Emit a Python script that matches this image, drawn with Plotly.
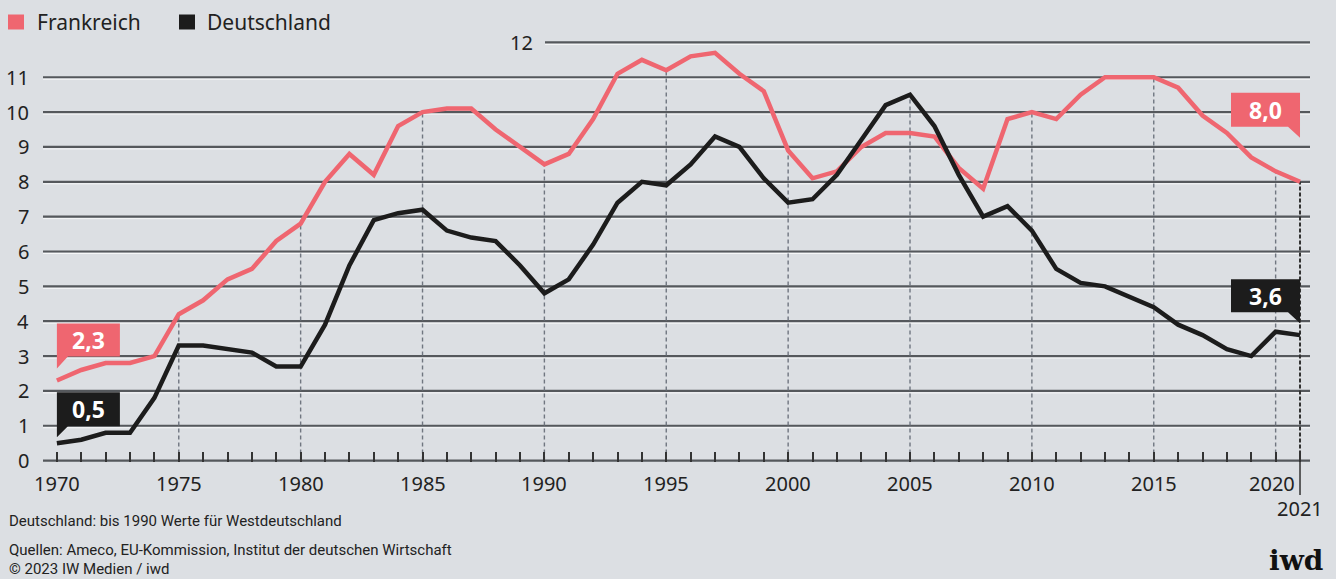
import plotly.graph_objects as go

# ---------------- data ----------------
years = list(range(1970, 2022))
frankreich = [2.3, 2.6, 2.8, 2.8, 3.0, 4.2, 4.6, 5.2, 5.5, 6.3,
              6.8, 8.0, 8.8, 8.2, 9.6, 10.0, 10.1, 10.1, 9.5, 9.0,
              8.5, 8.8, 9.8, 11.1, 11.5, 11.2, 11.6, 11.7, 11.1, 10.6,
              8.9, 8.1, 8.3, 9.0, 9.4, 9.4, 9.3, 8.4, 7.8, 9.8,
              10.0, 9.8, 10.5, 11.0, 11.0, 11.0, 10.7, 9.9, 9.4, 8.7,
              8.3, 8.0]
deutschland = [0.5, 0.6, 0.8, 0.8, 1.8, 3.3, 3.3, 3.2, 3.1, 2.7,
               2.7, 3.9, 5.6, 6.9, 7.1, 7.2, 6.6, 6.4, 6.3, 5.6,
               4.8, 5.2, 6.2, 7.4, 8.0, 7.9, 8.5, 9.3, 9.0, 8.1,
               7.4, 7.5, 8.2, 9.2, 10.2, 10.5, 9.6, 8.2, 7.0, 7.3,
               6.6, 5.5, 5.1, 5.0, 4.7, 4.4, 3.9, 3.6, 3.2, 3.0,
               3.7, 3.6]
y_ticks = list(range(0, 13))
x_label_years = [1970, 1975, 1980, 1985, 1990, 1995, 2000, 2005, 2010, 2015, 2020]
dashed_years = [1975, 1980, 1985, 1990, 1995, 2000, 2005, 2010, 2015, 2020]
last_year = 2021
series_names = ["Frankreich", "Deutschland"]
note_text = "Deutschland: bis 1990 Werte für Westdeutschland"
source_text = "Quellen: Ameco, EU-Kommission, Institut der deutschen Wirtschaft"
copy_text = "© 2023 IW Medien / iwd"

# ---------------- style ----------------
RED = "#ef6670"
BLACK = "#1c1c1c"
BG = "#dcdfe3"
GRID = "#55585c"
TXT = "#222222"
FONT = "Noto Sans"

W, H = 1336, 579
ML, MR, MT, MB = 43, 26, 41, 117
PW = W - ML - MR
PH = H - MT - MB


def xp(px):
    return (px - ML) / PW


def yp(py):
    return (H - MB - py) / PH


fig = go.Figure()
fig.add_trace(go.Scatter(x=years, y=frankreich, mode="lines", name=series_names[0],
                         line=dict(color=RED, width=4.5), showlegend=False,
                         hoverinfo="skip"))
fig.add_trace(go.Scatter(x=years, y=deutschland, mode="lines", name=series_names[1],
                         line=dict(color=BLACK, width=4.5), showlegend=False,
                         hoverinfo="skip"))

shapes = []
annotations = []

# horizontal gridlines
for v in y_ticks:
    x0 = xp(545) if v == 12 else 0
    shapes.append(dict(type="line", xref="paper", yref="y", x0=x0, x1=1, y0=v, y1=v,
                       line=dict(color=GRID, width=2.2), layer="below"))
    shapes.append(dict(type="line", xref="paper", yref="y", x0=x0, x1=1,
                       ysizemode="pixel", yanchor=v, y0=-2, y1=-2,
                       line=dict(color="rgba(255,255,255,0.75)", width=1), layer="below"))

# vertical dashed lines
for yr in dashed_years:
    i = years.index(yr)
    top = max(frankreich[i], deutschland[i])
    shapes.append(dict(type="line", xref="x", yref="y", x0=yr, x1=yr, y0=0, y1=top,
                       line=dict(color="#707680", width=1.4, dash="4px,3px"), layer="below"))
i = years.index(last_year)
shapes.append(dict(type="line", xref="x", yref="y", x0=last_year, x1=last_year, y0=0,
                   y1=max(frankreich[i], deutschland[i]),
                   line=dict(color="#333333", width=2, dash="4px,2px"), layer="below"))
shapes.append(dict(type="line", xref="x", yref="paper", x0=last_year, x1=last_year,
                   y0=0, y1=yp(495), line=dict(color="#333333", width=1.5)))

# callouts (speech-bubble shapes anchored to data points)
callouts = [
    (years[0], frankreich[0], RED, "M0,12 L0,57 L63,57 L63,24 L11,24 Z", 32, 40),
    (years[0], deutschland[0], BLACK, "M0,6 L0,51 L63,51 L63,17 L11,17 Z", 32, 34),
    (years[-1], frankreich[-1], RED, "M0,44 L0,89 L-69,89 L-69,55 L-12,55 Z", -35, 72),
    (years[-1], deutschland[-1], BLACK, "M0,12 L0,56 L-69,56 L-69,23 L-12,23 Z", -35, 39.5),
]
for xv, yv, col, path, dx, dy in callouts:
    shapes.append(dict(type="path", xref="x", yref="y", xsizemode="pixel", ysizemode="pixel",
                       xanchor=xv, yanchor=yv, path=path, fillcolor=col,
                       line=dict(width=0), layer="above"))
    annotations.append(dict(x=xv, y=yv, xref="x", yref="y", text=f"{yv:.1f}".replace(".", ","),
                            showarrow=False, xshift=dx, yshift=dy,
                            font=dict(family=FONT, size=23, color="white", weight="bold")))

# y tick labels
for v in y_ticks[:-1]:
    annotations.append(dict(xref="paper", yref="y", x=0, y=v, xshift=-12, text=str(v),
                            xanchor="right", yanchor="middle", showarrow=False,
                            font=dict(family=FONT, size=20, color=TXT)))
annotations.append(dict(xref="paper", yref="y", x=xp(535), y=12, text="12",
                        xanchor="right", yanchor="middle", showarrow=False,
                        font=dict(family=FONT, size=20, color=TXT)))

# x labels
for yr in x_label_years:
    annotations.append(dict(xref="x", yref="paper", x=yr, y=yp(483), text=str(yr),
                            xanchor="center", yanchor="middle", showarrow=False,
                            xshift=-4 if yr == 2020 else 0,
                            font=dict(family=FONT, size=20, color=TXT)))
annotations.append(dict(xref="x", yref="paper", x=last_year, y=yp(509), text=str(last_year),
                        xanchor="center", yanchor="middle", showarrow=False,
                        font=dict(family=FONT, size=20, color=TXT)))

# legend
legend_items = [(series_names[0], RED, 8, 35), (series_names[1], BLACK, 179, 205)]
for name, col, sx, tx in legend_items:
    shapes.append(dict(type="rect", xref="paper", yref="paper", x0=xp(sx), x1=xp(sx + 16),
                       y0=yp(29.5), y1=yp(14.5), fillcolor=col, line=dict(width=0)))
    annotations.append(dict(xref="paper", yref="paper", x=xp(tx), y=yp(22), text=name,
                            xanchor="left", yanchor="middle", showarrow=False,
                            font=dict(family=FONT, size=21, color=TXT)))

# footer
for txt, py in [(note_text, 521), (source_text, 550), (copy_text, 569)]:
    annotations.append(dict(xref="paper", yref="paper", x=xp(7), y=yp(py), text=txt,
                            xanchor="left", yanchor="middle", showarrow=False,
                            font=dict(family="Roboto", size=15, color=TXT)))
annotations.append(dict(xref="paper", yref="paper", x=xp(1325), y=yp(560), text="<b>iwd</b>",
                        xanchor="right", yanchor="middle", showarrow=False,
                        font=dict(family="DejaVu Serif", size=28, color="#111111")))

fig.update_layout(
    width=W, height=H,
    margin=dict(l=ML, r=MR, t=MT, b=MB, pad=0),
    paper_bgcolor=BG, plot_bgcolor=BG,
    showlegend=False,
    shapes=shapes, annotations=annotations,
    xaxis=dict(range=[1969.43, 2021.41], showgrid=False, zeroline=False, showline=False,
               tickvals=years, ticktext=["" for _ in years], ticks="inside", ticklen=10,
               tickwidth=2, tickcolor="#333333", fixedrange=True),
    yaxis=dict(range=[-0.04, 12.04], showgrid=False, zeroline=False, showline=False,
               showticklabels=False, fixedrange=True),
)

fig.write_html("out.html", config={"displayModeBar": False},
               post_script="document.body.style.margin='0';document.body.style.background='" + BG + "';")
